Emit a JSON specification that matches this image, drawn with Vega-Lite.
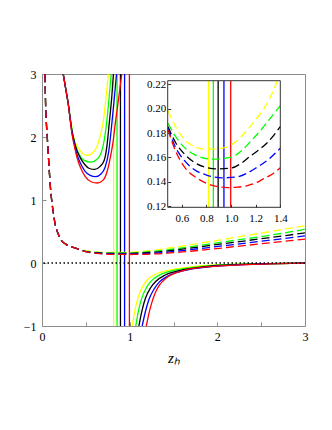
{
  "$schema": "https://vega.github.io/schema/vega-lite/v6.json",
  "width": 263,
  "height": 252,
  "autosize": {"type": "none"},
  "padding": {"left": 42, "top": 74, "right": 27, "bottom": 104},
  "background": "white",
  "config": {
    "font": "Liberation Serif, Times New Roman, Times, serif",
    "view": {"stroke": "#8c8c8c", "strokeWidth": 1},
    "axis": {"labelFont": "Liberation Serif, Times New Roman, Times, serif", "titleFont": "Liberation Serif, Times New Roman, Times, serif", "labelColor": "#000000", "grid": false, "labelOverlap": false}
  },
  "datasets": {
    "asym": [
      {"c": "yellow", "x": 0.817},
      {"c": "green", "x": 0.856},
      {"c": "black", "x": 0.895},
      {"c": "blue", "x": 0.942},
      {"c": "red", "x": 0.997}
    ],
    "solid": [
      {"c":"yellow","g":"u","x":0.242,"y":3.0},{"c":"yellow","g":"u","x":0.27,"y":2.77},{"c":"yellow","g":"u","x":0.30,"y":2.52},{"c":"yellow","g":"u","x":0.32,"y":2.33},{"c":"yellow","g":"u","x":0.34,"y":2.15},{"c":"yellow","g":"u","x":0.36,"y":2.0},{"c":"yellow","g":"u","x":0.39,"y":1.88},{"c":"yellow","g":"u","x":0.43,"y":1.79},{"c":"yellow","g":"u","x":0.47,"y":1.73},{"c":"yellow","g":"u","x":0.52,"y":1.71},{"c":"yellow","g":"u","x":0.57,"y":1.74},{"c":"yellow","g":"u","x":0.625,"y":1.84},{"c":"yellow","g":"u","x":0.665,"y":2.02},{"c":"yellow","g":"u","x":0.70,"y":2.26},{"c":"yellow","g":"u","x":0.73,"y":2.62},{"c":"yellow","g":"u","x":0.757,"y":3.0},
      {"c":"green","g":"u","x":0.242,"y":3.0},{"c":"green","g":"u","x":0.27,"y":2.77},{"c":"green","g":"u","x":0.30,"y":2.52},{"c":"green","g":"u","x":0.32,"y":2.32},{"c":"green","g":"u","x":0.34,"y":2.13},{"c":"green","g":"u","x":0.36,"y":1.98},{"c":"green","g":"u","x":0.39,"y":1.83},{"c":"green","g":"u","x":0.43,"y":1.71},{"c":"green","g":"u","x":0.48,"y":1.63},{"c":"green","g":"u","x":0.56,"y":1.60},{"c":"green","g":"u","x":0.62,"y":1.64},{"c":"green","g":"u","x":0.67,"y":1.73},{"c":"green","g":"u","x":0.71,"y":1.95},{"c":"green","g":"u","x":0.74,"y":2.26},{"c":"green","g":"u","x":0.765,"y":2.62},{"c":"green","g":"u","x":0.79,"y":3.0},
      {"c":"black","g":"u","x":0.242,"y":3.0},{"c":"black","g":"u","x":0.27,"y":2.77},{"c":"black","g":"u","x":0.30,"y":2.52},{"c":"black","g":"u","x":0.32,"y":2.31},{"c":"black","g":"u","x":0.34,"y":2.11},{"c":"black","g":"u","x":0.37,"y":1.92},{"c":"black","g":"u","x":0.40,"y":1.78},{"c":"black","g":"u","x":0.44,"y":1.66},{"c":"black","g":"u","x":0.49,"y":1.56},{"c":"black","g":"u","x":0.54,"y":1.50},{"c":"black","g":"u","x":0.60,"y":1.485},{"c":"black","g":"u","x":0.66,"y":1.53},{"c":"black","g":"u","x":0.71,"y":1.63},{"c":"black","g":"u","x":0.74,"y":1.85},{"c":"black","g":"u","x":0.77,"y":2.26},{"c":"black","g":"u","x":0.795,"y":2.62},{"c":"black","g":"u","x":0.815,"y":3.0},
      {"c":"blue","g":"u","x":0.242,"y":3.0},{"c":"blue","g":"u","x":0.27,"y":2.77},{"c":"blue","g":"u","x":0.30,"y":2.52},{"c":"blue","g":"u","x":0.32,"y":2.30},{"c":"blue","g":"u","x":0.34,"y":2.09},{"c":"blue","g":"u","x":0.37,"y":1.88},{"c":"blue","g":"u","x":0.40,"y":1.72},{"c":"blue","g":"u","x":0.44,"y":1.58},{"c":"blue","g":"u","x":0.49,"y":1.46},{"c":"blue","g":"u","x":0.55,"y":1.39},{"c":"blue","g":"u","x":0.61,"y":1.37},{"c":"blue","g":"u","x":0.67,"y":1.41},{"c":"blue","g":"u","x":0.72,"y":1.52},{"c":"blue","g":"u","x":0.76,"y":1.76},{"c":"blue","g":"u","x":0.80,"y":2.26},{"c":"blue","g":"u","x":0.825,"y":2.62},{"c":"blue","g":"u","x":0.85,"y":3.0},
      {"c":"red","g":"u","x":0.242,"y":3.0},{"c":"red","g":"u","x":0.27,"y":2.77},{"c":"red","g":"u","x":0.30,"y":2.52},{"c":"red","g":"u","x":0.32,"y":2.29},{"c":"red","g":"u","x":0.34,"y":2.07},{"c":"red","g":"u","x":0.37,"y":1.85},{"c":"red","g":"u","x":0.40,"y":1.67},{"c":"red","g":"u","x":0.44,"y":1.51},{"c":"red","g":"u","x":0.49,"y":1.38},{"c":"red","g":"u","x":0.56,"y":1.29},{"c":"red","g":"u","x":0.63,"y":1.27},{"c":"red","g":"u","x":0.70,"y":1.32},{"c":"red","g":"u","x":0.74,"y":1.44},{"c":"red","g":"u","x":0.78,"y":1.68},{"c":"red","g":"u","x":0.81,"y":1.92},{"c":"red","g":"u","x":0.84,"y":2.26},{"c":"red","g":"u","x":0.875,"y":2.62},{"c":"red","g":"u","x":0.91,"y":3.0},
      {"c":"yellow","g":"l","x":1.03,"y":-1},{"c":"yellow","g":"l","x":1.06,"y":-0.75},{"c":"yellow","g":"l","x":1.10,"y":-0.53},{"c":"yellow","g":"l","x":1.15,"y":-0.37},{"c":"yellow","g":"l","x":1.2,"y":-0.27},{"c":"yellow","g":"l","x":1.3,"y":-0.175},{"c":"yellow","g":"l","x":1.4,"y":-0.128},{"c":"yellow","g":"l","x":1.5,"y":-0.10},{"c":"yellow","g":"l","x":1.7,"y":-0.06},{"c":"yellow","g":"l","x":2.0,"y":-0.032},{"c":"yellow","g":"l","x":2.5,"y":-0.012},{"c":"yellow","g":"l","x":3.0,"y":-0.003},
      {"c":"green","g":"l","x":1.07,"y":-1},{"c":"green","g":"l","x":1.10,"y":-0.76},{"c":"green","g":"l","x":1.14,"y":-0.55},{"c":"green","g":"l","x":1.2,"y":-0.37},{"c":"green","g":"l","x":1.25,"y":-0.28},{"c":"green","g":"l","x":1.35,"y":-0.185},{"c":"green","g":"l","x":1.45,"y":-0.135},{"c":"green","g":"l","x":1.55,"y":-0.105},{"c":"green","g":"l","x":1.75,"y":-0.065},{"c":"green","g":"l","x":2.0,"y":-0.036},{"c":"green","g":"l","x":2.5,"y":-0.013},{"c":"green","g":"l","x":3.0,"y":-0.003},
      {"c":"black","g":"l","x":1.105,"y":-1},{"c":"black","g":"l","x":1.14,"y":-0.76},{"c":"black","g":"l","x":1.18,"y":-0.56},{"c":"black","g":"l","x":1.24,"y":-0.39},{"c":"black","g":"l","x":1.3,"y":-0.29},{"c":"black","g":"l","x":1.4,"y":-0.195},{"c":"black","g":"l","x":1.5,"y":-0.143},{"c":"black","g":"l","x":1.6,"y":-0.11},{"c":"black","g":"l","x":1.8,"y":-0.07},{"c":"black","g":"l","x":2.0,"y":-0.04},{"c":"black","g":"l","x":2.5,"y":-0.014},{"c":"black","g":"l","x":3.0,"y":-0.003},
      {"c":"blue","g":"l","x":1.143,"y":-1},{"c":"blue","g":"l","x":1.18,"y":-0.77},{"c":"blue","g":"l","x":1.22,"y":-0.58},{"c":"blue","g":"l","x":1.28,"y":-0.41},{"c":"blue","g":"l","x":1.34,"y":-0.30},{"c":"blue","g":"l","x":1.44,"y":-0.205},{"c":"blue","g":"l","x":1.54,"y":-0.15},{"c":"blue","g":"l","x":1.65,"y":-0.112},{"c":"blue","g":"l","x":1.85,"y":-0.07},{"c":"blue","g":"l","x":2.0,"y":-0.05},{"c":"blue","g":"l","x":2.5,"y":-0.016},{"c":"blue","g":"l","x":3.0,"y":-0.003},
      {"c":"red","g":"l","x":1.19,"y":-1},{"c":"red","g":"l","x":1.22,"y":-0.80},{"c":"red","g":"l","x":1.25,"y":-0.64},{"c":"red","g":"l","x":1.29,"y":-0.48},{"c":"red","g":"l","x":1.33,"y":-0.37},{"c":"red","g":"l","x":1.38,"y":-0.285},{"c":"red","g":"l","x":1.44,"y":-0.215},{"c":"red","g":"l","x":1.53,"y":-0.155},{"c":"red","g":"l","x":1.63,"y":-0.112},{"c":"red","g":"l","x":1.82,"y":-0.068},{"c":"red","g":"l","x":2.0,"y":-0.048},{"c":"red","g":"l","x":2.5,"y":-0.017},{"c":"red","g":"l","x":3.0,"y":-0.003}
    ],
    "dashed": [
      {"c":"yellow","x":0.034,"y":3.0},{"c":"yellow","x":0.041,"y":2.52},{"c":"yellow","x":0.05,"y":2.22},{"c":"yellow","x":0.06,"y":2.0},{"c":"yellow","x":0.07,"y":1.76},{"c":"yellow","x":0.083,"y":1.47},{"c":"yellow","x":0.095,"y":1.22},{"c":"yellow","x":0.11,"y":1.0},{"c":"yellow","x":0.13,"y":0.79},{"c":"yellow","x":0.148,"y":0.63},{"c":"yellow","x":0.18,"y":0.48},{"c":"yellow","x":0.22,"y":0.36},{"c":"yellow","x":0.27,"y":0.30},{"c":"yellow","x":0.34,"y":0.255},{"c":"yellow","x":0.40,"y":0.228},
      {"c":"yellow","x":0.487,"y":0.1986},{"c":"yellow","x":0.55,"y":0.185},{"c":"yellow","x":0.622,"y":0.1746},{"c":"yellow","x":0.70,"y":0.169},{"c":"yellow","x":0.805,"y":0.1666},{"c":"yellow","x":0.944,"y":0.168},{"c":"yellow","x":1.04,"y":0.173},{"c":"yellow","x":1.132,"y":0.1826},{"c":"yellow","x":1.20,"y":0.191},{"c":"yellow","x":1.267,"y":0.200},{"c":"yellow","x":1.348,"y":0.216},{"c":"yellow","x":1.375,"y":0.2225},{"c":"yellow","x":1.40,"y":0.228},{"c":"yellow","x":1.6,"y":0.268},{"c":"yellow","x":1.9,"y":0.335},{"c":"yellow","x":2.2,"y":0.405},{"c":"yellow","x":2.5,"y":0.475},{"c":"yellow","x":2.8,"y":0.545},{"c":"yellow","x":3.0,"y":0.59},
      {"c":"green","x":0.034,"y":3.0},{"c":"green","x":0.041,"y":2.52},{"c":"green","x":0.05,"y":2.22},{"c":"green","x":0.06,"y":2.0},{"c":"green","x":0.07,"y":1.76},{"c":"green","x":0.083,"y":1.47},{"c":"green","x":0.095,"y":1.22},{"c":"green","x":0.11,"y":1.0},{"c":"green","x":0.13,"y":0.79},{"c":"green","x":0.148,"y":0.63},{"c":"green","x":0.18,"y":0.48},{"c":"green","x":0.22,"y":0.36},{"c":"green","x":0.27,"y":0.30},{"c":"green","x":0.34,"y":0.255},{"c":"green","x":0.40,"y":0.228},
      {"c":"green","x":0.487,"y":0.188},{"c":"green","x":0.55,"y":0.177},{"c":"green","x":0.622,"y":0.168},{"c":"green","x":0.70,"y":0.1625},{"c":"green","x":0.85,"y":0.1586},{"c":"green","x":0.998,"y":0.160},{"c":"green","x":1.08,"y":0.165},{"c":"green","x":1.16,"y":0.1733},{"c":"green","x":1.23,"y":0.181},{"c":"green","x":1.294,"y":0.189},{"c":"green","x":1.40,"y":0.2026},{"c":"green","x":1.6,"y":0.24},{"c":"green","x":1.9,"y":0.30},{"c":"green","x":2.2,"y":0.36},{"c":"green","x":2.5,"y":0.42},{"c":"green","x":2.8,"y":0.485},{"c":"green","x":3.0,"y":0.535},
      {"c":"black","x":0.034,"y":3.0},{"c":"black","x":0.041,"y":2.52},{"c":"black","x":0.05,"y":2.22},{"c":"black","x":0.06,"y":2.0},{"c":"black","x":0.07,"y":1.76},{"c":"black","x":0.083,"y":1.47},{"c":"black","x":0.095,"y":1.22},{"c":"black","x":0.11,"y":1.0},{"c":"black","x":0.13,"y":0.79},{"c":"black","x":0.148,"y":0.63},{"c":"black","x":0.18,"y":0.48},{"c":"black","x":0.22,"y":0.36},{"c":"black","x":0.27,"y":0.30},{"c":"black","x":0.34,"y":0.255},{"c":"black","x":0.40,"y":0.228},
      {"c":"black","x":0.487,"y":0.1853},{"c":"black","x":0.55,"y":0.172},{"c":"black","x":0.622,"y":0.1626},{"c":"black","x":0.70,"y":0.156},{"c":"black","x":0.79,"y":0.152},{"c":"black","x":0.89,"y":0.1506},{"c":"black","x":0.998,"y":0.1512},{"c":"black","x":1.08,"y":0.155},{"c":"black","x":1.16,"y":0.1613},{"c":"black","x":1.23,"y":0.1665},{"c":"black","x":1.294,"y":0.172},{"c":"black","x":1.40,"y":0.1853},{"c":"black","x":1.6,"y":0.22},{"c":"black","x":1.9,"y":0.275},{"c":"black","x":2.2,"y":0.33},{"c":"black","x":2.5,"y":0.385},{"c":"black","x":2.8,"y":0.44},{"c":"black","x":3.0,"y":0.478},
      {"c":"blue","x":0.034,"y":3.0},{"c":"blue","x":0.041,"y":2.52},{"c":"blue","x":0.05,"y":2.22},{"c":"blue","x":0.06,"y":2.0},{"c":"blue","x":0.07,"y":1.76},{"c":"blue","x":0.083,"y":1.47},{"c":"blue","x":0.095,"y":1.22},{"c":"blue","x":0.11,"y":1.0},{"c":"blue","x":0.13,"y":0.79},{"c":"blue","x":0.148,"y":0.63},{"c":"blue","x":0.18,"y":0.48},{"c":"blue","x":0.22,"y":0.36},{"c":"blue","x":0.27,"y":0.30},{"c":"blue","x":0.34,"y":0.255},{"c":"blue","x":0.40,"y":0.228},
      {"c":"blue","x":0.487,"y":0.184},{"c":"blue","x":0.55,"y":0.168},{"c":"blue","x":0.622,"y":0.1573},{"c":"blue","x":0.70,"y":0.150},{"c":"blue","x":0.80,"y":0.1455},{"c":"blue","x":0.93,"y":0.1432},{"c":"blue","x":1.05,"y":0.144},{"c":"blue","x":1.13,"y":0.147},{"c":"blue","x":1.213,"y":0.152},{"c":"blue","x":1.30,"y":0.158},{"c":"blue","x":1.40,"y":0.1676},{"c":"blue","x":1.6,"y":0.198},{"c":"blue","x":1.9,"y":0.245},{"c":"blue","x":2.2,"y":0.295},{"c":"blue","x":2.5,"y":0.345},{"c":"blue","x":2.8,"y":0.395},{"c":"blue","x":3.0,"y":0.43},
      {"c":"red","x":0.034,"y":3.0},{"c":"red","x":0.041,"y":2.52},{"c":"red","x":0.05,"y":2.22},{"c":"red","x":0.06,"y":2.0},{"c":"red","x":0.07,"y":1.76},{"c":"red","x":0.083,"y":1.47},{"c":"red","x":0.095,"y":1.22},{"c":"red","x":0.11,"y":1.0},{"c":"red","x":0.13,"y":0.79},{"c":"red","x":0.148,"y":0.63},{"c":"red","x":0.18,"y":0.48},{"c":"red","x":0.22,"y":0.36},{"c":"red","x":0.27,"y":0.30},{"c":"red","x":0.34,"y":0.255},{"c":"red","x":0.40,"y":0.228},
      {"c":"red","x":0.487,"y":0.1826},{"c":"red","x":0.55,"y":0.165},{"c":"red","x":0.622,"y":0.152},{"c":"red","x":0.729,"y":0.1426},{"c":"red","x":0.85,"y":0.137},{"c":"red","x":0.971,"y":0.1352},{"c":"red","x":1.05,"y":0.1355},{"c":"red","x":1.132,"y":0.1368},{"c":"red","x":1.20,"y":0.139},{"c":"red","x":1.267,"y":0.1426},{"c":"red","x":1.33,"y":0.146},{"c":"red","x":1.40,"y":0.1515},{"c":"red","x":1.6,"y":0.175},{"c":"red","x":1.9,"y":0.215},{"c":"red","x":2.2,"y":0.26},{"c":"red","x":2.5,"y":0.305},{"c":"red","x":2.8,"y":0.35},{"c":"red","x":3.0,"y":0.38}
    ]
  },
  "layer": [
    {
      "layer": [
        {
          "data": {"name": "asym"},
          "mark": {"type": "rule", "strokeWidth": 1.3},
          "encoding": {
            "x": {"field": "x", "type": "quantitative", "scale": {"domain": [0, 3], "nice": false, "zero": false}},
            "color": {"field": "c", "type": "nominal", "scale": {"domain": ["yellow", "green", "black", "blue", "red"], "range": ["#ffff00", "#00ff00", "#000000", "#0000ff", "#ff0000"]}, "legend": null}
          }
        },
        {
          "data": {"name": "solid"},
          "mark": {"type": "line", "interpolate": "monotone", "strokeWidth": 1.3, "clip": true},
          "encoding": {
            "x": {"field": "x", "type": "quantitative", "scale": {"domain": [0, 3], "nice": false, "zero": false},
              "axis": {"orient": "bottom", "values": [0, 0.5, 1, 1.5, 2, 2.5, 3], "format": "~g", "labelExpr": "datum.value % 1 === 0 ? datum.label : ''", "domain": false, "tickColor": "#8c8c8c", "tickSize": -4, "labelPadding": 9, "labelFont": "Liberation Serif, Times New Roman, Times, serif", "labelFontSize": 12, "labelFlush": false, "title": "zₕ", "titleFont": "Liberation Serif, Times New Roman, Times, serif", "titleFontStyle": "italic", "titleFontWeight": "normal", "titleFontSize": 15, "titlePadding": 8}},
            "y": {"field": "y", "type": "quantitative", "scale": {"domain": [-1, 3], "nice": false, "zero": false},
              "axis": {"orient": "left", "values": [-1, -0.5, 0, 0.5, 1, 1.5, 2, 2.5, 3], "format": "~g", "labelExpr": "datum.value % 1 === 0 ? datum.label : ''", "domain": false, "tickColor": "#8c8c8c", "tickSize": -4, "labelPadding": 10, "labelFont": "Liberation Serif, Times New Roman, Times, serif", "labelFontSize": 12, "title": null}},
            "detail": {"field": "g"},
            "color": {"field": "c", "type": "nominal", "scale": {"domain": ["yellow", "green", "black", "blue", "red"], "range": ["#ffff00", "#00ff00", "#000000", "#0000ff", "#ff0000"]}, "legend": null}
          }
        },
        {
          "data": {"values": [{}]},
          "mark": {"type": "rule", "strokeDash": [1.5, 2.5], "strokeWidth": 1.4, "color": "#000000"},
          "encoding": {
            "y": {"datum": 0, "type": "quantitative", "scale": {"domain": [-1, 3], "nice": false, "zero": false}}
          }
        },
        {
          "data": {"name": "dashed"},
          "mark": {"type": "line", "interpolate": "monotone", "strokeWidth": 1.3, "strokeDash": [8, 4], "clip": true},
          "encoding": {
            "x": {"field": "x", "type": "quantitative", "scale": {"domain": [0, 3], "nice": false, "zero": false}},
            "y": {"field": "y", "type": "quantitative", "scale": {"domain": [-1, 3], "nice": false, "zero": false}},
            "color": {"field": "c", "type": "nominal", "scale": {"domain": ["yellow", "green", "black", "blue", "red"], "range": ["#ffff00", "#00ff00", "#000000", "#0000ff", "#ff0000"]}, "legend": null}
          }
        }
      ]
    },
    {
      "layer": [
        {
          "data": {"name": "asym"},
          "mark": {"type": "rule", "strokeWidth": 1.3},
          "encoding": {
            "x": {"field": "x", "type": "quantitative", "scale": {"domain": [0.485, 1.4], "range": [125.7, 238.3], "nice": false, "zero": false}},
            "y": {"datum": 0.119, "type": "quantitative", "scale": {"domain": [0.119, 0.223], "range": [133.3, 6.7], "nice": false, "zero": false}},
            "y2": {"datum": 0.223},
            "color": {"field": "c", "type": "nominal", "scale": {"domain": ["yellow", "green", "black", "blue", "red"], "range": ["#ffff00", "#00ff00", "#000000", "#0000ff", "#ff0000"]}, "legend": null}
          }
        },
        {
          "data": {"name": "dashed"},
          "transform": [{"filter": "datum.x >= 0.485 && datum.x <= 1.4 && datum.y <= 0.223"}],
          "mark": {"type": "line", "interpolate": "monotone", "strokeWidth": 1.3, "strokeDash": [8, 4]},
          "encoding": {
            "x": {"field": "x", "type": "quantitative", "scale": {"domain": [0.485, 1.4], "range": [125.7, 238.3], "nice": false, "zero": false},
              "axis": {"orient": "bottom", "offset": -118.7, "values": [0.6, 0.8, 1.0, 1.2, 1.4], "format": ".1f", "domain": false, "tickColor": "#333333", "tickSize": -3, "labelPadding": 8, "labelFont": "Liberation Serif, Times New Roman, Times, serif", "labelFontSize": 11, "labelFlush": false, "title": null}},
            "y": {"field": "y", "type": "quantitative", "scale": {"domain": [0.119, 0.223], "range": [133.3, 6.7], "nice": false, "zero": false},
              "axis": {"orient": "left", "offset": -125.7, "values": [0.12, 0.14, 0.16, 0.18, 0.2, 0.22], "format": ".2f", "domain": false, "tickColor": "#333333", "tickSize": -3, "labelPadding": 5, "labelFont": "Liberation Serif, Times New Roman, Times, serif", "labelFontSize": 11, "title": null}},
            "color": {"field": "c", "type": "nominal", "scale": {"domain": ["yellow", "green", "black", "blue", "red"], "range": ["#ffff00", "#00ff00", "#000000", "#0000ff", "#ff0000"]}, "legend": null}
          }
        },
        {
          "data": {"values": [{}]},
          "mark": {"type": "rect", "filled": false, "stroke": "#333333", "strokeWidth": 1},
          "encoding": {
            "x": {"datum": 0.485, "type": "quantitative", "scale": {"domain": [0.485, 1.4], "range": [125.7, 238.3], "nice": false, "zero": false}},
            "x2": {"datum": 1.4},
            "y": {"datum": 0.119, "type": "quantitative", "scale": {"domain": [0.119, 0.223], "range": [133.3, 6.7], "nice": false, "zero": false}},
            "y2": {"datum": 0.223}
          }
        }
      ]
    }
  ],
  "resolve": {"scale": {"x": "independent", "y": "independent"}}
}
